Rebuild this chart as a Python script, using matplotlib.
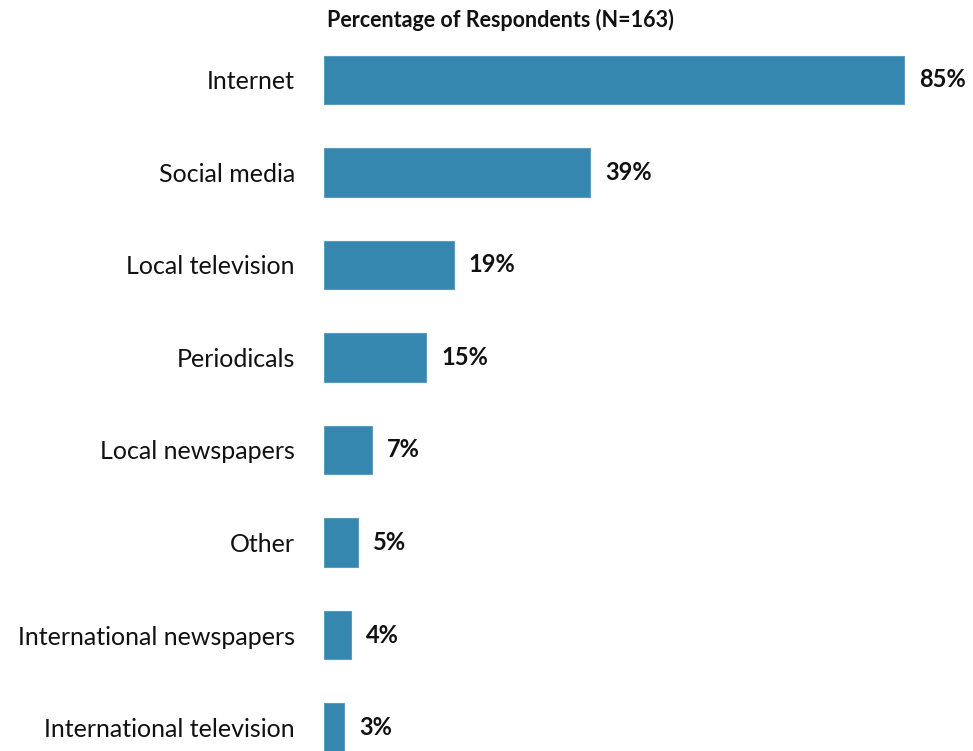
import matplotlib
matplotlib.use("Agg")
import matplotlib.pyplot as plt

plt.rcParams['font.family'] = ['Lato', 'DejaVu Sans']

categories = ["Internet", "Social media", "Local television", "Periodicals",
              "Local newspapers", "Other", "International newspapers",
              "International television"]
values = [85, 39, 19, 15, 7, 5, 4, 3]
title = "Percentage of Respondents (N=163)"

fig = plt.figure(figsize=(9.73, 7.51), dpi=100)
# axes placed so bars start at x=324px and the last bar is cut by the bottom edge
ax = fig.add_axes([324 / 973, 0, 1 - 324 / 973, 1 - 10.6 / 751])

pos = list(range(len(categories)))
ax.barh(pos, values, height=0.52, color="#3587b0", edgecolor="#5a9cc0", linewidth=0.8)
ax.set_ylim(7.254, -0.75)
ax.set_xlim(0, 649 / 6.82)

for p, v in zip(pos, values):
    ax.text(v + 2.2, p, f"{v}%", va="center", ha="left", fontsize=17,
            fontweight="bold", color="#111111", clip_on=False)

ax.set_yticks(pos)
ax.set_yticklabels(categories, fontsize=18, color="#111111")
ax.tick_params(axis="y", length=0, pad=21)
ax.set_xticks([])
for s in ax.spines.values():
    s.set_visible(False)

fig.text(500 / 973, 1 - 20 / 751, title, ha="center", va="center",
         fontsize=15.5, fontweight="bold", color="#111111")

fig.savefig("out.png", dpi=100)
